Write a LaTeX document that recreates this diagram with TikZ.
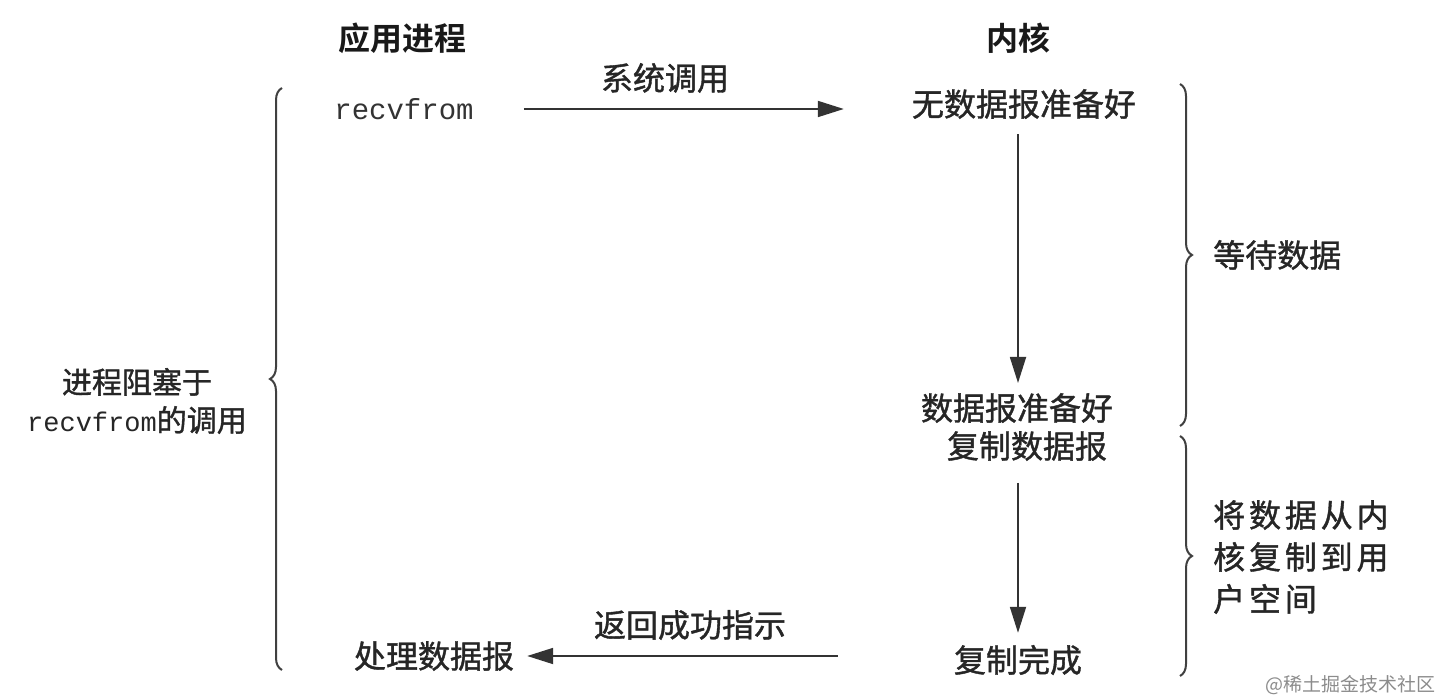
\documentclass[tikz,border=0pt]{standalone}
\usepackage{fontspec}
\setmonofont{Liberation Mono}
\newfontfamily\cjk{Noto Sans CJK SC}[FakeBold=1.2]
\newfontfamily\cjkhdr{Noto Sans CJK SC Bold}
\newfontfamily\cjkwide{Noto Sans CJK SC}[LetterSpace=12,FakeBold=1.2]
\newfontfamily\cjkwm{Noto Sans CJK SC}
\usetikzlibrary{arrows.meta,decorations.pathreplacing}
\tikzset{
  txt/.style={font=\cjk\fontsize{32}{40}\selectfont, text=black!85, inner sep=0pt},
  hdr/.style={font=\cjkhdr\fontsize{32}{40}\selectfont, text=black!90, inner sep=0pt},
  mono/.style={font=\ttfamily\fontsize{29}{36}\selectfont, text=black!80, inner sep=0pt},
  arr/.style={-{Triangle[length=26pt,width=16pt]}, line width=1.8pt, draw=black!80},
  brc/.style={decorate, decoration={brace, amplitude=12pt}, line width=2pt, draw=black!75},
  wm/.style={font=\cjkwm\fontsize{19}{22}\selectfont, text=black!45, inner sep=0pt}
}
\begin{document}
\begin{tikzpicture}[x=1pt,y=-1pt]
\useasboundingbox (0,0) rectangle (1440,700);
\fill[white] (0,0) rectangle (1440,700);

% headers
\node[hdr] (happ) at (402,38) {应用进程};
\node[hdr] (hker) at (1018,38) {内核};

% application side
\node[mono] (recv) at (404,109) {recvfrom};
\node[txt] (proc) at (434,656) {处理数据报};

% kernel side
\node[txt] (nodata) at (1024,104) {无数据报准备好};
\node[txt] (ready) at (1017,408) {数据报准备好};
\node[txt] (copy) at (1027,446) {复制数据报};
\node[txt] (done) at (1018,660) {复制完成};

% arrow labels
\node[txt] (lsys) at (665,78) {系统调用};
\node[txt] (lret) at (690,625) {返回成功指示};

% arrows
\draw[arr, shorten <=50pt, shorten >=68pt] (recv.east) -- (recv.east -| nodata.west);
\draw[arr, shorten <=15pt, shorten >=10pt] (nodata.south -| done) -- (ready.north -| done);
\draw[arr, shorten <=22pt, shorten >=12pt] (copy.south -| done) -- (done.north);
\draw[arr, shorten <=116pt, shorten >=13pt] (done.west |- proc) -- (proc.east);

% left brace
\coordinate (lbt) at (282,88);
\coordinate (lbb) at (282,670);
\draw[brc] (lbb) -- (lbt);
\node[txt, align=center, font=\cjk\fontsize{30}{38}\selectfont] (lblk) at (137,401)
  {进程阻塞于\\{\fontsize{27}{38}\ttfamily recvfrom}的调用};

% right braces
\coordinate (rb1t) at (1180,84);
\coordinate (rb1b) at (1180,426);
\draw[brc] (rb1t) -- (rb1b);
\node[txt, anchor=west] (lwait) at (1213,255) {等待数据};

\coordinate (rb2t) at (1180,436);
\coordinate (rb2b) at (1180,676);
\draw[brc] (rb2t) -- (rb2b);
\node[txt, anchor=north west, align=left, font=\cjkwide\fontsize{32}{42}\selectfont] (lcopy) at (1213,500)
  {将数据从内\\核复制到用\\户空间};

% watermark
\node[wm, anchor=east] (wmark) at (1436,685) {@稀土掘金技术社区};
\end{tikzpicture}
\end{document}
